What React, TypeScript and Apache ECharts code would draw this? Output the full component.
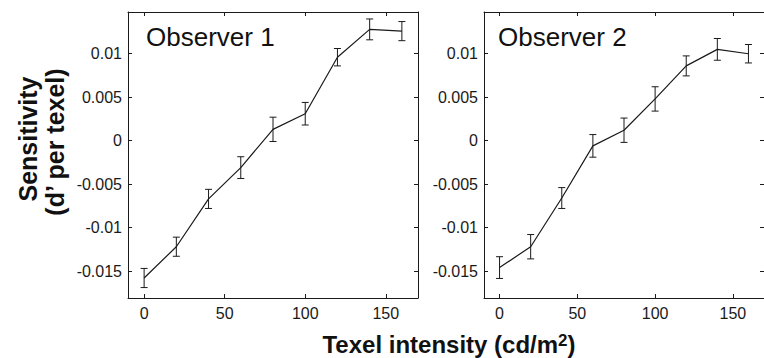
import React, { useEffect, useRef } from "react";
import * as echarts from "echarts";

const X_VALUES = [0, 20, 40, 60, 80, 100, 120, 140, 160];
const OBS1_MEAN = [-0.0158, -0.0122, -0.0067, -0.0031, 0.0013, 0.0031, 0.0096, 0.0128, 0.0126];
const OBS1_ERR = [0.0011, 0.0011, 0.0011, 0.00125, 0.0014, 0.0013, 0.001, 0.0012, 0.0011];
const OBS2_MEAN = [-0.0146, -0.0122, -0.0066, -0.0006, 0.0012, 0.0048, 0.0086, 0.0105, 0.01];
const OBS2_ERR = [0.00125, 0.0014, 0.0012, 0.0013, 0.0014, 0.0014, 0.00115, 0.00125, 0.00106];

const Y_TICKS = [-0.015, -0.01, -0.005, 0, 0.005, 0.01];
const Y_TICK_LABELS = ["-0.015", "-0.01", "-0.005", "0", "0.005", "0.01"];
const X_TICKS = [0, 50, 100, 150];
const X_TICK_LABELS = ["0", "50", "100", "150"];

const PANEL_TITLES = ["Observer 1", "Observer 2"];
const X_TITLE = "Texel intensity (cd/m";
const Y_TITLE_1 = "Sensitivity";
const Y_TITLE_2 = "(d\u2019 per texel)";

const Y_MIN = -0.0181;
const Y_MAX = 0.0148;
const X_MIN = -10;
const X_MAX = 170;

const FONT = "'Liberation Sans', Arial, Helvetica, sans-serif";
const INK = "#1a1a1a";

function yLabel(v: number) {
  let best = 0;
  for (let i = 0; i < Y_TICKS.length; i++) {
    if (Math.abs(Y_TICKS[i] - v) < Math.abs(Y_TICKS[best] - v)) best = i;
  }
  return Y_TICK_LABELS[best];
}
function xLabel(v: number) {
  let best = 0;
  for (let i = 0; i < X_TICKS.length; i++) {
    if (Math.abs(X_TICKS[i] - v) < Math.abs(X_TICKS[best] - v)) best = i;
  }
  return X_TICK_LABELS[best];
}

export default function App() {
  const ref = useRef<HTMLDivElement>(null);
  useEffect(() => {
    if (!ref.current) return;
    const chart = echarts.init(ref.current, null, { renderer: "svg" });

    const grids = [
      { left: 128, top: 12, width: 290, height: 286 },
      { left: 484, top: 12, width: 290, height: 286 },
    ];

    const xAxes: any[] = [];
    const yAxes: any[] = [];
    grids.forEach((_, g) => {
      ["bottom", "top"].forEach((pos) => {
        xAxes.push({
          type: "value",
          gridIndex: g,
          position: pos,
          min: X_MIN,
          max: X_MAX,
          axisLine: { show: true, onZero: false, lineStyle: { color: INK, width: 1 } },
          axisTick: {
            show: true,
            inside: true,
            length: 4,
            customValues: X_TICKS,
            lineStyle: { color: INK, width: 1 },
          },
          axisLabel: {
            show: pos === "bottom",
            customValues: X_TICKS,
            margin: 7,
            fontSize: 16,
            fontFamily: FONT,
            color: INK,
            formatter: (v: number) => xLabel(v),
          },
          splitLine: { show: false },
        });
      });
      ["left", "right"].forEach((pos) => {
        yAxes.push({
          type: "value",
          gridIndex: g,
          position: pos,
          min: Y_MIN,
          max: Y_MAX,
          axisLine: { show: true, onZero: false, lineStyle: { color: INK, width: 1 } },
          axisTick: {
            show: true,
            inside: true,
            length: 4,
            customValues: Y_TICKS,
            lineStyle: { color: INK, width: 1 },
          },
          axisLabel: {
            show: pos === "left",
            customValues: Y_TICKS,
            margin: 6,
            fontSize: 16,
            fontFamily: FONT,
            color: INK,
            formatter: (v: number) => yLabel(v),
          },
          splitLine: { show: false },
        });
      });
    });

    const errStyle = { stroke: INK, lineWidth: 1 };
    const renderErr = (params: any, api: any) => {
      const x = api.value(0);
      const lo = api.value(1);
      const hi = api.value(2);
      const p1 = api.coord([x, lo]);
      const p2 = api.coord([x, hi]);
      const w = 3.5;
      return {
        type: "group",
        children: [
          { type: "line", shape: { x1: p1[0], y1: p1[1], x2: p2[0], y2: p2[1] }, style: errStyle },
          { type: "line", shape: { x1: p1[0] - w, y1: p1[1], x2: p1[0] + w, y2: p1[1] }, style: errStyle },
          { type: "line", shape: { x1: p2[0] - w, y1: p2[1], x2: p2[0] + w, y2: p2[1] }, style: errStyle },
        ],
      };
    };

    const means = [OBS1_MEAN, OBS2_MEAN];
    const errs = [OBS1_ERR, OBS2_ERR];
    const series: any[] = [];
    means.forEach((m, g) => {
      series.push({
        type: "line",
        xAxisIndex: g * 2,
        yAxisIndex: g * 2,
        data: X_VALUES.map((x, i) => [x, m[i]]),
        showSymbol: false,
        symbol: "none",
        lineStyle: { color: INK, width: 1.2 },
        silent: true,
      });
      series.push({
        type: "custom",
        xAxisIndex: g * 2,
        yAxisIndex: g * 2,
        data: X_VALUES.map((x, i) => [x, m[i] - errs[g][i], m[i] + errs[g][i]]),
        encode: { x: 0, y: [1, 2] },
        renderItem: renderErr,
        silent: true,
      });
    });

    chart.setOption({
      animation: false,
      backgroundColor: "#ffffff",
      grid: grids,
      xAxis: xAxes,
      yAxis: yAxes,
      series,
      graphic: [
        {
          type: "text",
          left: 146,
          top: 24,
          style: { text: PANEL_TITLES[0], fontSize: 26, fontFamily: FONT, fill: "#111" },
        },
        {
          type: "text",
          left: 498,
          top: 24,
          style: { text: PANEL_TITLES[1], fontSize: 26, fontFamily: FONT, fill: "#111" },
        },
        {
          type: "text",
          x: 449,
          y: 344,
          style: {
            text: "{a|" + X_TITLE + "}{s|2}{a|)}",
            align: "center",
            verticalAlign: "middle",
            rich: {
              a: { fontSize: 24, fontWeight: "bold", fontFamily: FONT, fill: "#111" },
              s: { fontSize: 17, fontWeight: "bold", fontFamily: FONT, fill: "#111", verticalAlign: "top", padding: [0, 0, 8, 0] },
            },
          },
        },
        {
          type: "text",
          x: 28,
          y: 139,
          rotation: Math.PI / 2,
          style: {
            text: Y_TITLE_1,
            align: "center",
            verticalAlign: "middle",
            fontSize: 25,
            fontWeight: "bold",
            fontFamily: FONT,
            fill: "#111",
          },
        },
        {
          type: "text",
          x: 55,
          y: 142,
          rotation: Math.PI / 2,
          style: {
            text: Y_TITLE_2,
            align: "center",
            verticalAlign: "middle",
            fontSize: 25,
            fontWeight: "bold",
            fontFamily: FONT,
            fill: "#111",
          },
        },
      ],
    });
    return () => chart.dispose();
  }, []);
  return (
    <div
      ref={ref}
      style={{ position: "fixed", left: 0, top: 0, width: 764, height: 358, background: "#fff" }}
    />
  );
}
